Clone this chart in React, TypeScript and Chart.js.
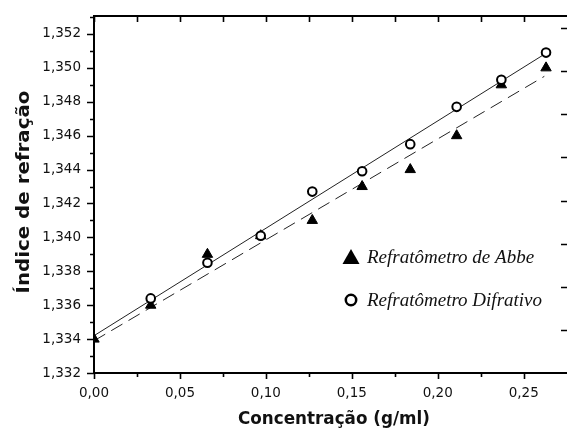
import React, { useEffect, useRef } from "react";
import { Chart, registerables } from "chart.js";
Chart.register(...registerables);

// Data
const concAbbe = [0.0, 0.033, 0.066, 0.097, 0.127, 0.156, 0.184, 0.211, 0.237, 0.263];
const nAbbe = [1.334, 1.336, 1.339, 1.3401, 1.341, 1.343, 1.344, 1.346, 1.349, 1.350];
const concDif = [0.033, 0.066, 0.097, 0.127, 0.156, 0.184, 0.211, 0.237, 0.263];
const nDif = [1.3364, 1.3385, 1.3401, 1.3427, 1.3439, 1.3455, 1.3477, 1.3493, 1.3509];
const fitX = [0.0, 0.262];
const fitAbbeY = [1.3339, 1.3495];
const fitDifY = [1.3342, 1.3508];

const xTicks = [0, 0.05, 0.1, 0.15, 0.2, 0.25];
const xMinorTicks = [0.025, 0.075, 0.125, 0.175, 0.225];
const yTicks = [1.332, 1.334, 1.336, 1.338, 1.34, 1.342, 1.344, 1.346, 1.348, 1.35, 1.352];
const yMinorTicks = [1.333, 1.335, 1.337, 1.339, 1.341, 1.343, 1.345, 1.347, 1.349, 1.351, 1.353];
const rightTicks = [1, 2, 3, 4, 5, 6, 7, 8];

const xTitle = "Concentração (g/ml)";
const yTitle = "Índice de refração";
const legendLabels = ["Refratômetro de Abbe", "Refratômetro Difrativo"];

const toPts = (xs: number[], ys: number[]) => xs.map((x, i) => ({ x, y: ys[i] }));

function fitText(ctx: CanvasRenderingContext2D, text: string, x: number, y: number, w: number, rot: number) {
  const m = ctx.measureText(text).width;
  ctx.save();
  ctx.translate(x, y);
  ctx.rotate(rot);
  ctx.scale(w / m, 1);
  ctx.fillText(text, 0, 0);
  ctx.restore();
}

const decorPlugin = {
  id: "decor",
  afterDraw(chart: any) {
    const ctx = chart.ctx;
    const { left, right, top, bottom } = chart.chartArea;
    const xs = chart.scales.x;
    const ys = chart.scales.y;
    const y2 = chart.scales.y2;
    ctx.save();
    ctx.strokeStyle = "#000";
    ctx.lineWidth = 2;
    // frame: left, top and bottom (right edge of the frame lies outside the picture)
    ctx.beginPath();
    ctx.moveTo(right + 2, top);
    ctx.lineTo(left, top);
    ctx.lineTo(left, bottom);
    ctx.lineTo(right + 2, bottom);
    ctx.stroke();
    ctx.lineWidth = 1.6;
    ctx.beginPath();
    yTicks.forEach((v) => {
      const p = Math.round(ys.getPixelForValue(v)) + 0.5;
      ctx.moveTo(left - 7, p);
      ctx.lineTo(left, p);
    });
    yMinorTicks.forEach((v) => {
      if (v > ys.max) return;
      const p = Math.round(ys.getPixelForValue(v)) + 0.5;
      ctx.moveTo(left - 4, p);
      ctx.lineTo(left, p);
    });
    xTicks.forEach((v) => {
      const p = Math.round(xs.getPixelForValue(v)) + 0.5;
      ctx.moveTo(p, bottom);
      ctx.lineTo(p, bottom + 6);
      ctx.moveTo(p, top);
      ctx.lineTo(p, top + 6);
    });
    xMinorTicks.forEach((v) => {
      const p = Math.round(xs.getPixelForValue(v)) + 0.5;
      ctx.moveTo(p, bottom);
      ctx.lineTo(p, bottom + 4);
      ctx.moveTo(p, top);
      ctx.lineTo(p, top + 6);
    });
    rightTicks.forEach((v) => {
      const p = Math.round(y2.getPixelForValue(v)) + 0.5;
      ctx.moveTo(right, p);
      ctx.lineTo(right - 6, p);
    });
    ctx.stroke();

    // axis titles
    ctx.fillStyle = "#111";
    ctx.font = "bold 18px 'DejaVu Sans', 'Liberation Sans', sans-serif";
    ctx.textAlign = "center";
    ctx.textBaseline = "middle";
    fitText(ctx, xTitle, 334, 419, 192, 0);
    fitText(ctx, yTitle, 24, 192, 203, -Math.PI / 2);

    // legend
    const lx = 351;
    const ly = [257, 300];
    ctx.fillStyle = "#000";
    ctx.beginPath();
    ctx.moveTo(lx, ly[0] - 8);
    ctx.lineTo(lx + 8.5, ly[0] + 7);
    ctx.lineTo(lx - 8.5, ly[0] + 7);
    ctx.closePath();
    ctx.fill();
    ctx.beginPath();
    ctx.lineWidth = 2.5;
    ctx.strokeStyle = "#000";
    ctx.fillStyle = "#fff";
    ctx.arc(lx, ly[1], 5.2, 0, Math.PI * 2);
    ctx.fill();
    ctx.stroke();
    ctx.fillStyle = "#111";
    ctx.font = "italic 19px 'Liberation Serif', 'Times New Roman', serif";
    ctx.textAlign = "left";
    ctx.fillText(legendLabels[0], 367, ly[0] + 1);
    ctx.fillText(legendLabels[1], 367, ly[1] + 1);
    ctx.restore();
  },
};

export default function App() {
  const ref = useRef<HTMLCanvasElement>(null);
  useEffect(() => {
    if (!ref.current) return;
    const tickFont = { family: "'DejaVu Sans', 'Liberation Sans', sans-serif", size: 13.5 };
    const chart = new Chart(ref.current, {
      type: "scatter",
      data: {
        datasets: [
          {
            label: "fitDif",
            data: toPts(fitX, fitDifY),
            showLine: true,
            borderColor: "#222",
            borderWidth: 1,
            pointRadius: 0,
            order: 3,
          },
          {
            label: "fitAbbe",
            data: toPts(fitX, fitAbbeY),
            showLine: true,
            borderColor: "#222",
            borderWidth: 1,
            borderDash: [13, 7],
            pointRadius: 0,
            order: 3,
          },
          {
            label: legendLabels[0],
            data: toPts(concAbbe, nAbbe),
            pointStyle: "triangle",
            pointRadius: 6,
            backgroundColor: "#000",
            borderColor: "#000",
            borderWidth: 1,
            order: 2,
          },
          {
            label: legendLabels[1],
            data: toPts(concDif, nDif),
            pointStyle: "circle",
            pointRadius: 4.3,
            backgroundColor: "#fff",
            borderColor: "#000",
            borderWidth: 2,
            order: 1,
          },
        ],
      },
      options: {
        animation: false,
        responsive: false,
        maintainAspectRatio: false,
        layout: { autoPadding: false, padding: { left: 0, top: 16, right: 0, bottom: 0 } },
        plugins: { legend: { display: false }, tooltip: { enabled: false } },
        scales: {
          x: {
            type: "linear",
            min: 0,
            max: 0.2752,
            grid: { display: false, drawTicks: false },
            border: { display: false },
            afterBuildTicks: (s: any) => {
              s.ticks = xTicks.map((v) => ({ value: v }));
            },
            afterFit: (s: any) => {
              s.height = 57;
              s.paddingLeft = 0;
              s.paddingRight = 0;
            },
            ticks: {
              padding: 12,
              color: "#111",
              font: tickFont,
              maxRotation: 0,
              callback: (v: any) => Number(v).toFixed(2).replace(".", ","),
            },
          },
          y: {
            type: "linear",
            min: 1.332,
            max: 1.35306,
            grid: { display: false, drawTicks: false },
            border: { display: false },
            afterBuildTicks: (s: any) => {
              s.ticks = yTicks.map((v) => ({ value: v }));
            },
            afterFit: (s: any) => {
              s.width = 94;
              s.paddingTop = 0;
              s.paddingBottom = 0;
            },
            ticks: {
              padding: 13,
              color: "#111",
              font: tickFont,
              callback: (v: any) => Number(v).toFixed(3).replace(".", ","),
            },
          },
          y2: {
            type: "linear",
            position: "right",
            min: 0,
            max: 8.28,
            grid: { display: false, drawTicks: false },
            border: { display: false },
            ticks: { display: false },
            afterFit: (s: any) => {
              s.width = 0;
              s.paddingTop = 0;
              s.paddingBottom = 0;
            },
          },
        },
      },
      plugins: [decorPlugin],
    } as any);
    return () => chart.destroy();
  }, []);
  return (
    <div style={{ position: "fixed", left: 0, top: 0, width: 567, height: 430, background: "#fff" }}>
      <canvas ref={ref} width={567} height={430} style={{ width: 567, height: 430, display: "block" }} />
    </div>
  );
}
